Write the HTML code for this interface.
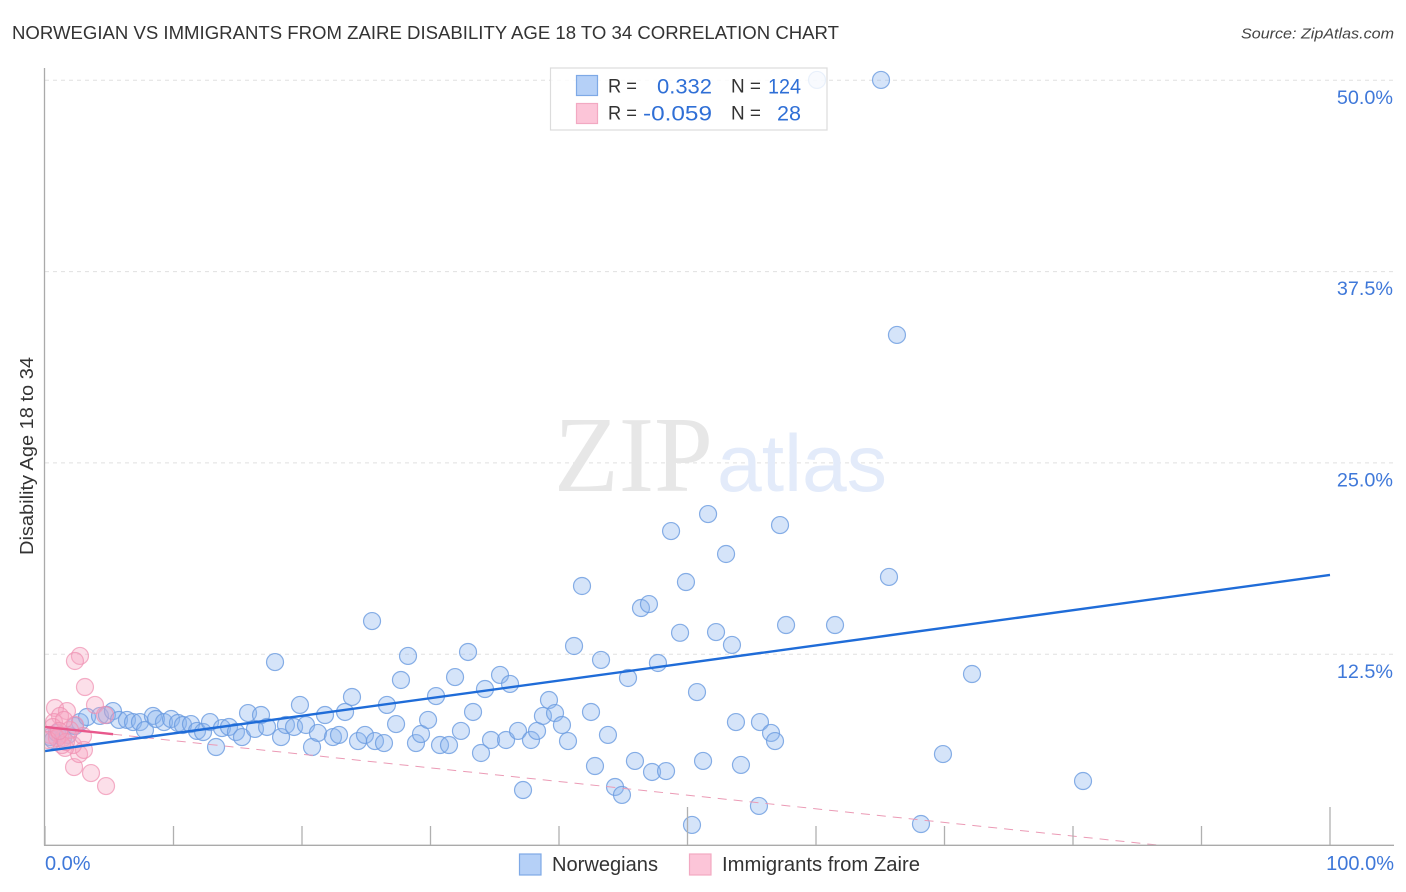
<!DOCTYPE html>
<html lang="en">
<head>
<meta charset="utf-8">
<title>Norwegian vs Immigrants from Zaire Disability Age 18 to 34 Correlation Chart</title>
<style>
html,body{margin:0;padding:0;background:#fff;width:1406px;height:892px;overflow:hidden}
svg{display:block;font-family:"Liberation Sans",sans-serif}
</style>
</head>
<body>
<svg id="chart" width="1406" height="892" viewBox="0 0 1406 892" xmlns="http://www.w3.org/2000/svg">
  <defs><clipPath id="plot-clip"><rect x="45" y="60" width="1349" height="785"/></clipPath></defs>
  <text x="12" y="39" font-size="18.5" fill="#333" textLength="827" lengthAdjust="spacingAndGlyphs">NORWEGIAN VS IMMIGRANTS FROM ZAIRE DISABILITY AGE 18 TO 34 CORRELATION CHART</text>
  <text x="1394" y="38.5" font-size="15" font-style="italic" fill="#444" text-anchor="end" textLength="153" lengthAdjust="spacingAndGlyphs">Source: ZipAtlas.com</text>
  <g id="grid"></g>
  <g>
    <text x="554" y="491" font-family="'Liberation Serif',serif" font-size="108" fill="#e7e7e7" textLength="159" lengthAdjust="spacingAndGlyphs">ZIP</text>
    <text x="717" y="491" font-size="81" fill="#e3ebfa" textLength="170" lengthAdjust="spacingAndGlyphs">atlas</text>
  </g>
  <g id="blue-points" clip-path="url(#plot-clip)"></g>
  <g id="pink-points" clip-path="url(#plot-clip)"></g>
  <g id="trends"></g>
  <g id="axes"></g>
  <text transform="translate(33,456) rotate(-90)" font-size="18" fill="#333" text-anchor="middle" textLength="198" lengthAdjust="spacingAndGlyphs">Disability Age 18 to 34</text>
  <g>
    <rect x="550.5" y="68" width="276.5" height="62" fill="#fff" fill-opacity="0.82" stroke="#dcdcdc" stroke-width="1.2"/>
    <rect x="576.5" y="75.5" width="21" height="20" fill="#b5d0f7" stroke="#7ea9e6" stroke-width="1.2"/>
    <rect x="576.5" y="103.5" width="21" height="20" fill="#fcc5d8" stroke="#f2a9c2" stroke-width="1.2"/>
    <text x="608" y="92.5" font-size="19" fill="#333" textLength="29" lengthAdjust="spacingAndGlyphs">R =</text>
    <text x="657" y="93.5" font-size="21.5" fill="#2f6fd6" textLength="55" lengthAdjust="spacingAndGlyphs">0.332</text>
    <text x="731" y="92.5" font-size="19" fill="#333" textLength="30" lengthAdjust="spacingAndGlyphs">N =</text>
    <text x="768" y="93.5" font-size="21.5" fill="#2f6fd6" textLength="33" lengthAdjust="spacingAndGlyphs">124</text>
    <text x="608" y="119.5" font-size="19" fill="#333" textLength="29" lengthAdjust="spacingAndGlyphs">R =</text>
    <text x="643" y="120.5" font-size="21.5" fill="#2f6fd6" textLength="69" lengthAdjust="spacingAndGlyphs">-0.059</text>
    <text x="731" y="119.5" font-size="19" fill="#333" textLength="30" lengthAdjust="spacingAndGlyphs">N =</text>
    <text x="777" y="120.5" font-size="21.5" fill="#2f6fd6" textLength="24" lengthAdjust="spacingAndGlyphs">28</text>
  </g>
  <g>
    <g>
      <rect x="519.5" y="854" width="21.5" height="21" fill="#b5d0f7" stroke="#7ea9e6" stroke-width="1.2"/>
      <text x="552" y="871" font-size="20" fill="#333" textLength="106" lengthAdjust="spacingAndGlyphs">Norwegians</text>
    </g>
    <g>
      <rect x="689.5" y="854" width="21.5" height="21" fill="#fcc5d8" stroke="#f2a9c2" stroke-width="1.2"/>
      <text x="722" y="871" font-size="20" fill="#333" textLength="198" lengthAdjust="spacingAndGlyphs">Immigrants from Zaire</text>
    </g>
  </g>
</svg>
<script>
const yTickValues = [12.5, 25, 37.5, 50];
const yTickLabels = ['12.5%', '25.0%', '37.5%', '50.0%'];
const xTickValues = [0, 10, 20, 30, 40, 50, 60, 70, 80, 90, 100];
const xEdgeValues = [0, 100];
const xEdgeLabels = ['0.0%', '100.0%'];

const norwegiansX = [0.39,0.62,0.93,1.40,1.79,2.33,2.72,3.27,4.28,4.82,5.29,5.76,6.38,6.85,7.39,7.78,8.40,8.64,9.26,9.81,10.35,10.74,11.36,11.83,12.30,12.84,13.31,13.77,14.32,14.86,15.33,15.80,16.34,16.81,17.28,17.90,18.37,18.75,19.38,19.84,20.31,20.78,21.24,21.79,22.41,22.88,23.35,23.89,24.36,24.90,25.45,25.68,26.38,26.61,27.32,27.70,28.25,28.87,29.26,29.81,30.43,30.74,31.44,31.91,32.37,32.92,33.31,33.93,34.24,34.71,35.41,35.88,36.19,36.81,37.20,37.82,38.29,38.75,39.22,39.69,40.23,40.70,41.17,41.79,42.49,42.80,43.27,43.81,44.36,44.90,45.37,45.91,46.38,47.00,47.24,47.70,48.33,48.72,49.42,49.88,50.35,50.74,51.21,51.60,52.22,53.00,53.46,53.77,54.16,55.56,55.64,56.50,56.81,57.20,57.67,60.08,61.48,65.06,65.68,66.30,68.17,69.88,72.14,80.78];
const norwegiansY = [7.09,6.90,7.36,7.03,7.23,7.81,8.07,8.40,8.47,8.53,8.79,8.21,8.21,8.07,8.07,7.55,8.47,8.27,8.07,8.27,8.01,7.88,7.94,7.49,7.42,8.07,6.44,7.68,7.75,7.42,7.09,8.66,7.62,8.53,7.75,11.99,7.09,7.88,7.75,9.19,7.88,6.44,7.36,8.53,7.09,7.23,8.73,9.71,6.83,7.23,14.67,6.83,6.70,9.19,7.94,10.82,12.39,6.70,7.29,8.21,9.77,6.57,6.57,11.01,7.49,12.65,8.73,6.05,10.23,6.90,11.15,6.90,10.56,7.49,3.63,6.90,7.49,8.47,9.51,8.66,7.88,6.83,13.04,16.96,8.73,5.20,12.13,7.23,3.83,3.31,10.95,5.53,15.52,15.78,4.81,11.93,4.87,20.55,13.90,17.22,1.35,10.03,5.53,21.66,13.95,19.05,13.11,8.07,5.27,2.59,8.07,7.36,6.83,20.94,14.41,50.02,14.41,50.02,17.55,33.36,1.41,5.98,11.21,4.22];

const immigrantsX = [2.72,2.33,3.11,0.78,1.71,1.17,3.89,4.67,2.33,3.58,2.26,4.75,2.65,3.03,2.18,1.56,2.96,0.70,0.39,0.62,1.17,1.32,0.93,1.95,1.48,0.23,1.63,1.09];
const immigrantsY = [12.39,12.06,10.36,8.99,8.79,8.47,9.19,8.53,7.88,4.74,5.13,3.89,5.98,6.25,6.57,6.38,7.16,8.07,7.23,7.75,7.23,6.57,7.03,7.55,8.21,6.90,6.77,7.49];

const norwegiansTrend = [6.18, 17.68];
const immigrantsTrendStart = 7.75;
const immigrantsTrendSlope = -0.0891;
const immigrantsSolidEnd = 5.3;
const immigrantsDashEnd = 87;

const NS = 'http://www.w3.org/2000/svg';
const xScale = v => 45 + v * 12.85;
const yScale = v => 845.6 - v * 15.307;
const immigrantsTrendAt = v => immigrantsTrendStart + immigrantsTrendSlope * v;

function make(tag, attrs, parent) {
  const el = document.createElementNS(NS, tag);
  for (const k in attrs) el.setAttribute(k, attrs[k]);
  parent.appendChild(el);
  return el;
}

const gridG = document.getElementById('grid');
const axesG = document.getElementById('axes');
const blueG = document.getElementById('blue-points');
const pinkG = document.getElementById('pink-points');
const trendG = document.getElementById('trends');

yTickValues.forEach((v, i) => {
  const line = make('line', {x1: 45, x2: 1393, y1: yScale(v), y2: yScale(v), stroke: '#e0e0e0', 'stroke-width': 1, 'stroke-dasharray': '4 4'}, gridG);
  
  
  const label = make('text', {x: 1393, y: yScale(v) + 23.5, 'font-size': 19.8, fill: '#3f78d9', 'text-anchor': 'end'}, axesG);
  label.textContent = yTickLabels[i];
  
  
});

const yAxis = make('line', {x1: 44.5, x2: 44.5, y1: 68, y2: 845.5, stroke: '#aaa', 'stroke-width': 1.3}, axesG);


const xAxis = make('line', {x1: 44, x2: 1394, y1: 845.3, y2: 845.3, stroke: '#aaa', 'stroke-width': 1.3}, axesG);



xTickValues.forEach(v => {
  const tall = v === 50 || v === 100;
  const tick = make('line', {x1: xScale(v), x2: xScale(v), y1: tall ? 807 : 826, y2: 845, stroke: '#b0b0b0', 'stroke-width': 1.3}, axesG);
  
  
});

xEdgeValues.forEach((v, i) => {
  const label = make('text', {x: i === 0 ? xScale(v) : 1394, y: 870, 'font-size': 20, fill: '#3f78d9', 'text-anchor': i === 0 ? 'start' : 'end'}, axesG);
  label.textContent = xEdgeLabels[i];
  
  
});

norwegiansX.forEach((v, i) => {
  const c = make('circle', {cx: xScale(v), cy: yScale(norwegiansY[i]), r: 8.5, fill: '#8ab5ee', 'fill-opacity': 0.36, stroke: '#6a9be0', 'stroke-opacity': 0.8, 'stroke-width': 1.2}, blueG);
  
  
});

immigrantsX.forEach((v, i) => {
  const c = make('circle', {cx: xScale(v), cy: yScale(immigrantsY[i]), r: 8.5, fill: '#f7a6c2', 'fill-opacity': 0.36, stroke: '#ef8fb0', 'stroke-opacity': 0.7, 'stroke-width': 1.2}, pinkG);
  
  
});

const dash = make('line', {x1: xScale(immigrantsSolidEnd), y1: yScale(immigrantsTrendAt(immigrantsSolidEnd)), x2: xScale(immigrantsDashEnd), y2: yScale(immigrantsTrendAt(immigrantsDashEnd)), stroke: '#eb9ab5', 'stroke-width': 1, 'stroke-dasharray': '9 7'}, trendG);


const solid = make('line', {x1: xScale(0), y1: yScale(immigrantsTrendAt(0)), x2: xScale(immigrantsSolidEnd), y2: yScale(immigrantsTrendAt(immigrantsSolidEnd)), stroke: '#e8588c', 'stroke-width': 2.4}, trendG);


const blueTrend = make('line', {x1: xScale(0), y1: yScale(norwegiansTrend[0]), x2: xScale(100), y2: yScale(norwegiansTrend[1]), stroke: '#1f6cd8', 'stroke-width': 2.4}, trendG);


</script>
</body>
</html>
